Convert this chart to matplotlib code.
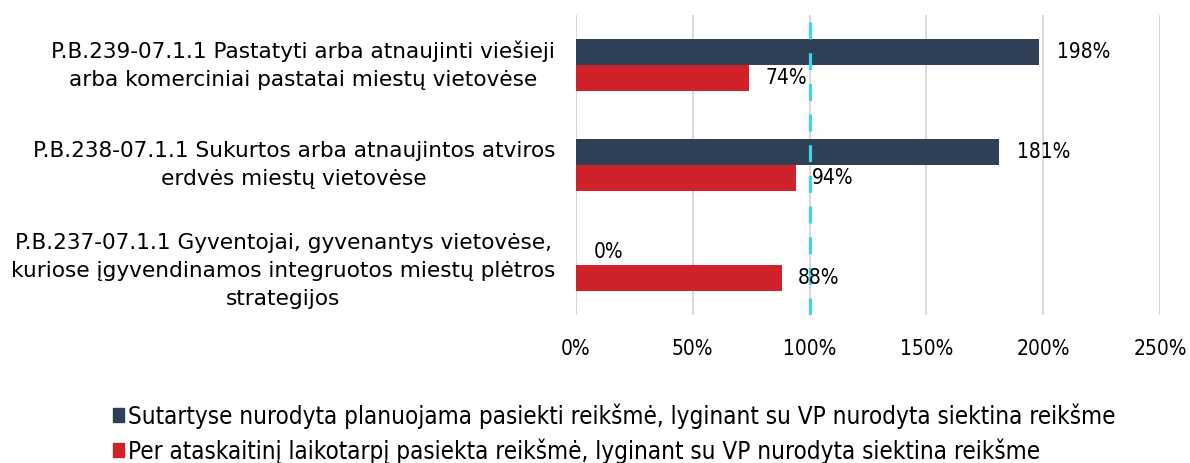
import matplotlib
matplotlib.use("Agg")
import matplotlib.pyplot as plt
from matplotlib.patches import Patch

categories = [
    "P.B.239-07.1.1 Pastatyti arba atnaujinti viešieji\narba komerciniai pastatai miestų vietovėse",
    "P.B.238-07.1.1 Sukurtos arba atnaujintos atviros\nerdvės miestų vietovėse",
    "P.B.237-07.1.1 Gyventojai, gyvenantys vietovėse,\nkuriose įgyvendinamos integruotos miestų plėtros\nstrategijos",
]
planned = [198, 181, 0]
achieved = [74, 94, 88]
series_names = [
    "Sutartyse nurodyta planuojama pasiekti reikšmė, lyginant su VP nurodyta siektina reikšme",
    "Per ataskaitinį laikotarpį pasiekta reikšmė, lyginant su VP nurodyta siektina reikšme",
]
xticks = [0, 50, 100, 150, 200, 250]
target = 100

dark = "#2e3f56"
red = "#d0222b"
cyan = "#3fd6ea"

plt.rcParams['font.family'] = ['DejaVu Sans']

fig = plt.figure(figsize=(11.9, 4.63), dpi=100)
ax = fig.add_axes([576/1190, 1-315/463, (1160-576)/1190, 300/463])

y = list(range(len(categories)))
h = 0.26
ax.barh([v - h/2 for v in y], planned, height=h, color=dark, zorder=2)
ax.barh([v + h/2 for v in y], achieved, height=h, color=red, zorder=2)

ax.axvline(target, color=cyan, lw=2.3, dashes=(5.3, 4.3), zorder=3)

num_font = dict(family="DejaVu Sans", stretch="condensed", size=15)
for v, p, a in zip(y, planned, achieved):
    ax.annotate(f"{p}%", (p, v - h/2), xytext=(13, 0), textcoords="offset points",
                va="center", ha="left", zorder=4, **num_font)
    ax.annotate(f"{a}%", (a, v + h/2), xytext=(12, 0), textcoords="offset points",
                va="center", ha="left", zorder=4, **num_font)

ax.set_xlim(0, 250)
ax.set_ylim(2.5, -0.5)
ax.set_xticks(xticks)
ax.set_xticklabels([f"{t}%" for t in xticks], **num_font)
ax.set_yticks(y)
ax.set_yticklabels(categories, fontsize=15.6, multialignment="center", linespacing=1.48)
for lab in ax.get_yticklabels():
    lab.set_verticalalignment("center" if lab.get_text().count("\n") < 2 else "center_baseline")
ax.tick_params(axis="y", length=0, pad=15)
ax.tick_params(axis="x", length=0, pad=17)
ax.grid(axis="x", color="#d9d9d9", lw=1.5, zorder=0)
ax.set_axisbelow(True)
for s in ax.spines.values():
    s.set_visible(False)

handles = [Patch(color=dark), Patch(color=red)]
fig.legend(handles, series_names, loc="upper left", bbox_to_anchor=(101/1190, 1-391/463),
           frameon=False, prop=dict(family="DejaVu Sans", stretch="condensed", size=17.4),
           handlelength=0.45, handleheight=0.55,
           handletextpad=0.15, labelspacing=0.4, borderpad=0)

fig.savefig("out.png", dpi=100)
